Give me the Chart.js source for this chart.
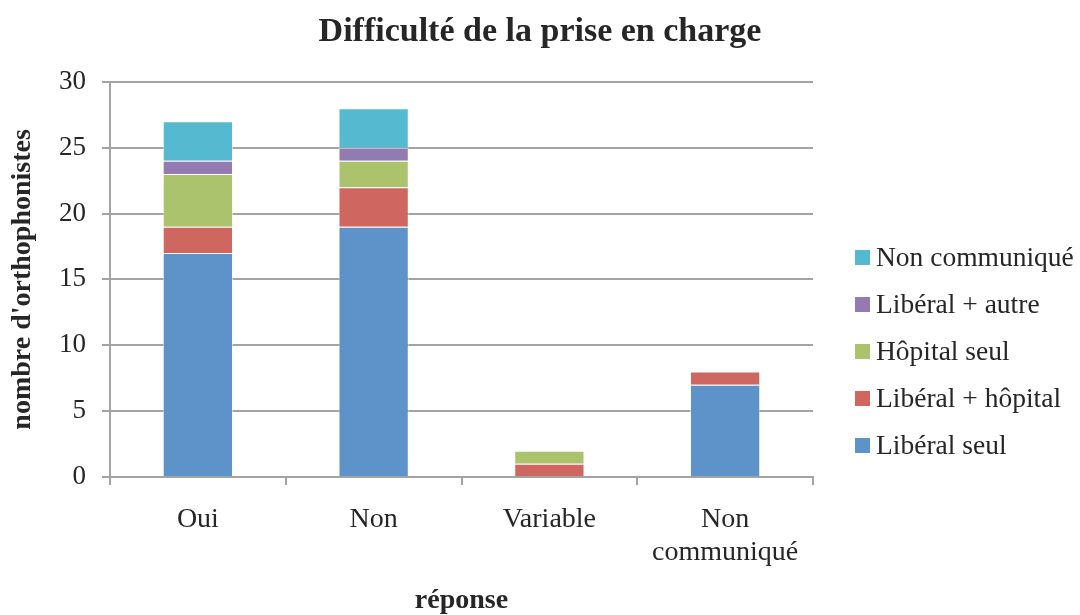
<!DOCTYPE html>
<html>
<head>
<meta charset="utf-8">
<script src="https://cdn.jsdelivr.net/npm/chart.js@4/dist/chart.umd.min.js"></script>
<style>
  html, body { margin: 0; padding: 0; background: #fff; }
  #wrap { width: 1080px; height: 615px; }
</style>
</head>
<body>
<div id="wrap"><canvas id="c" width="1080" height="615"></canvas></div>
<script>
const categories = ["Oui", "Non", "Variable", ["Non", "communiqué"]];
const seriesNames = ["Libéral seul", "Libéral + hôpital", "Hôpital seul", "Libéral + autre", "Non communiqué"];
const liberalSeul = [17, 19, 0, 7];
const liberalHopital = [2, 3, 1, 1];
const hopitalSeul = [4, 2, 1, 0];
const liberalAutre = [1, 1, 0, 0];
const nonCommunique = [3, 3, 0, 0];
const seriesColors = ["#5E93C9", "#CF665F", "#ABC36C", "#937AB1", "#55B9CF"];
const yTicks = [0, 5, 10, 15, 20, 25, 30];

const seriesValues = [liberalSeul, liberalHopital, hopitalSeul, liberalAutre, nonCommunique];
const SERIF = "'Liberation Serif', 'Times New Roman', serif";
const TEXT = "#262626";
const GRID = "#A3A3A3";

const customLegend = {
  id: 'customLegend',
  afterLayout(chart) {
    const t = chart.titleBlock;
    if (t) { t.left = 0; t.right = chart.width; t.width = chart.width; }
  },
  afterDraw(chart) {
    const ctx = chart.ctx;
    const ds = chart.data.datasets;
    ctx.save();
    ctx.font = "27.5px " + SERIF;
    ctx.textBaseline = 'middle';
    ctx.textAlign = 'left';
    const n = ds.length;
    for (let i = 0; i < n; i++) {
      const d = ds[n - 1 - i];
      const cy = 257.5 + i * 47;
      ctx.fillStyle = d.backgroundColor;
      ctx.fillRect(855, cy - 7.5, 15, 15);
      ctx.fillStyle = TEXT;
      ctx.fillText(d.label, 876, cy + 1);
    }
    ctx.restore();
  }
};

new Chart(document.getElementById('c'), {
  type: 'bar',
  data: {
    labels: categories,
    datasets: seriesNames.map((name, i) => ({
      label: name,
      data: seriesValues[i],
      backgroundColor: seriesColors[i],
      borderColor: 'rgba(255,255,255,0.6)',
      borderWidth: 1,
      categoryPercentage: 1.0,
      barPercentage: 0.4
    }))
  },
  options: {
    responsive: false,
    animation: false,
    devicePixelRatio: 1,
    layout: { padding: { left: 0, right: 267, top: 0, bottom: 0 } },
    plugins: {
      legend: { display: false },
      tooltip: { enabled: false },
      title: {
        display: true,
        text: "Difficulté de la prise en charge",
        color: TEXT,
        font: { family: SERIF, size: 34, weight: 'bold', lineHeight: 1.2 },
        padding: { top: 12, bottom: 29 }
      }
    },
    scales: {
      x: {
        stacked: true,
        afterFit(s) { s.height = 138; },
        grid: { offset: true, drawOnChartArea: false, drawTicks: true, tickLength: 8, color: GRID, lineWidth: 2 },
        border: { display: true, color: GRID, width: 2 },
        ticks: { color: TEXT, padding: 19, font: { family: SERIF, size: 28, lineHeight: 1.15 }, maxRotation: 0, autoSkip: false },
        title: {
          display: true, text: "réponse", color: TEXT,
          font: { family: SERIF, size: 28, weight: 'bold', lineHeight: 1 },
          padding: { top: 0, bottom: 0 }
        }
      },
      y: {
        stacked: true,
        min: 0, max: 30,
        afterFit(s) { s.width = 110; },
        afterBuildTicks(s) { s.ticks = yTicks.map(v => ({ value: v })); },
        grid: { drawTicks: true, tickLength: 8, color: GRID, lineWidth: 2 },
        border: { display: true, color: GRID, width: 2 },
        ticks: { color: TEXT, padding: 16, stepSize: 5, font: { family: SERIF, size: 27 } },
        title: {
          display: true, text: "nombre d'orthophonistes", color: TEXT,
          font: { family: SERIF, size: 28, weight: 'bold', lineHeight: 1 },
          padding: { top: 9, bottom: 0 }
        }
      }
    }
  },
  plugins: [customLegend]
});
</script>
</body>
</html>
